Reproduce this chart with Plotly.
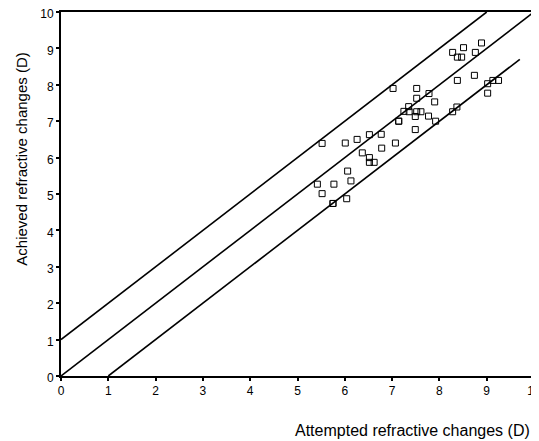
import plotly.graph_objects as go

attempted = [5.52, 6.01, 6.26, 6.52, 6.77, 7.07, 6.37, 6.78, 6.52, 6.52, 6.62, 6.06, 6.13,
             5.42, 5.77, 5.52, 5.75, 5.75, 6.04, 7.02, 7.52, 7.52, 7.78, 7.90, 7.35, 7.25,
             7.36, 7.52, 7.61, 7.49, 7.77, 7.14, 7.14, 7.92, 7.49, 8.28, 8.37, 8.51, 8.89,
             8.28, 8.38, 8.47, 8.76, 8.74, 8.38, 9.02, 9.13, 9.25, 9.02]
achieved = [6.39, 6.40, 6.50, 6.63, 6.64, 6.40, 6.13, 6.26, 6.00, 5.87, 5.87, 5.63, 5.36,
            5.27, 5.27, 5.01, 4.74, 4.74, 4.87, 7.90, 7.90, 7.63, 7.76, 7.53, 7.40, 7.27,
            7.26, 7.26, 7.26, 7.13, 7.14, 7.00, 7.00, 7.00, 6.77, 7.26, 7.39, 9.02, 9.15,
            8.89, 8.76, 8.76, 8.89, 8.26, 8.12, 8.03, 8.12, 8.12, 7.77]

upper_x = [0, 9]
upper_y = [1, 10]
mid_x = [0, 10]
mid_y = [0, 10]
lower_x = [1, 9.7]
lower_y = [0, 8.7]

tick_vals = list(range(0, 11))
tick_text = [str(v) for v in tick_vals]

FONT = "Liberation Sans, Arial"

fig = go.Figure()
for lx, ly in [(upper_x, upper_y), (mid_x, mid_y), (lower_x, lower_y)]:
    fig.add_trace(go.Scatter(x=lx, y=ly, mode="lines",
                             line=dict(color="black", width=1.6),
                             showlegend=False, hoverinfo="skip"))
fig.add_trace(go.Scatter(x=attempted, y=achieved, mode="markers",
                         marker=dict(symbol="square-open", size=6, color="black",
                                     line=dict(width=1, color="black")),
                         showlegend=False))

axis_common = dict(range=[0, 10], tickvals=tick_vals, ticktext=tick_text,
                   showline=True, linecolor="black", linewidth=2, mirror=True,
                   ticks="outside", ticklen=3, tickwidth=2, tickcolor="black",
                   showgrid=False, zeroline=False, automargin=False,
                   ticklabeloverflow="allow",
                   tickfont=dict(family=FONT, size=12, color="black"))

# page body adds an 8px offset, so the figure is sized/margined to compensate
fig.update_layout(
    width=531, height=433,
    margin=dict(l=53, r=5, t=4, b=65),
    paper_bgcolor="white", plot_bgcolor="white",
    xaxis=dict(**axis_common),
    yaxis=dict(**axis_common, ticklabelshift=2),
    annotations=[
        dict(text="Attempted refractive changes (D)", xref="paper", yref="paper",
             x=0.995, y=-0.151, xanchor="right", yanchor="middle", showarrow=False,
             font=dict(family=FONT, size=16, color="black")),
        dict(text="Achieved refractive changes (D)", xref="paper", yref="paper",
             x=-0.0825, y=0.597, xanchor="center", yanchor="middle", showarrow=False,
             textangle=-90,
             font=dict(family=FONT, size=15, color="black")),
    ],
)

fig.write_html("out.html")
